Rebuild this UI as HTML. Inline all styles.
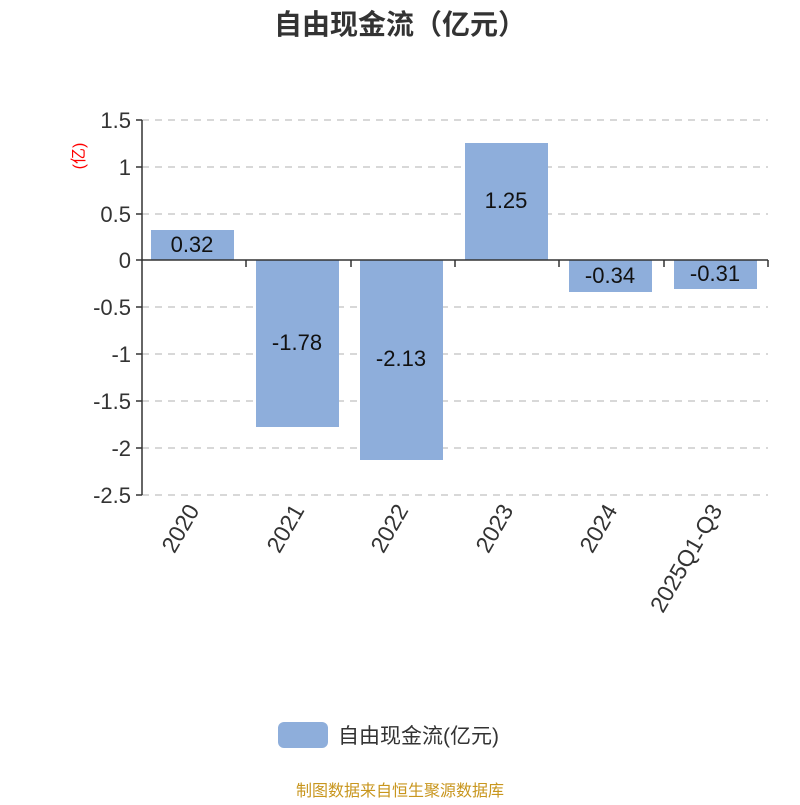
<!DOCTYPE html>
<html><head><meta charset="utf-8"><style>
html,body{margin:0;padding:0;background:#fff;}
svg text{font-family:"Liberation Sans","Noto Sans CJK SC",sans-serif;}
</style></head><body>
<svg width="800" height="800" viewBox="0 0 800 800" xmlns="http://www.w3.org/2000/svg">
<text x="400" y="34" text-anchor="middle" font-size="28" font-weight="bold" fill="#333">自由现金流（亿元）</text>
<g stroke="#ccc" stroke-width="1.5" stroke-dasharray="7,6">
<line x1="142" y1="120" x2="768" y2="120"/>
<line x1="142" y1="167" x2="768" y2="167"/>
<line x1="142" y1="214" x2="768" y2="214"/>
<line x1="142" y1="307" x2="768" y2="307"/>
<line x1="142" y1="354" x2="768" y2="354"/>
<line x1="142" y1="401" x2="768" y2="401"/>
<line x1="142" y1="448" x2="768" y2="448"/>
<line x1="142" y1="495" x2="768" y2="495"/>
</g>
<g fill="#8eaedb">
<rect x="151" y="230" width="83" height="30"/>
<rect x="256" y="260" width="83" height="167"/>
<rect x="360" y="260" width="83" height="200"/>
<rect x="465" y="143" width="83" height="117"/>
<rect x="569" y="260" width="83" height="32"/>
<rect x="674" y="260" width="83" height="29"/>
</g>
<g stroke="#333" stroke-width="1.5">
<line x1="142" y1="120" x2="142" y2="495"/>
<line x1="142" y1="260" x2="768" y2="260"/>
<line x1="136" y1="120" x2="142" y2="120"/><line x1="136" y1="167" x2="142" y2="167"/>
<line x1="136" y1="214" x2="142" y2="214"/><line x1="136" y1="260" x2="142" y2="260"/>
<line x1="136" y1="307" x2="142" y2="307"/><line x1="136" y1="354" x2="142" y2="354"/>
<line x1="136" y1="401" x2="142" y2="401"/><line x1="136" y1="448" x2="142" y2="448"/>
<line x1="136" y1="495" x2="142" y2="495"/>
<line x1="246" y1="260" x2="246" y2="267"/><line x1="351" y1="260" x2="351" y2="267"/>
<line x1="455" y1="260" x2="455" y2="267"/><line x1="559" y1="260" x2="559" y2="267"/>
<line x1="664" y1="260" x2="664" y2="267"/><line x1="768" y1="260" x2="768" y2="267"/>
</g>
<g font-size="22" fill="#333" text-anchor="end">
<text x="131" y="128">1.5</text><text x="131" y="175">1</text><text x="131" y="222">0.5</text>
<text x="131" y="268">0</text><text x="131" y="315">-0.5</text><text x="131" y="362">-1</text>
<text x="131" y="409">-1.5</text><text x="131" y="456">-2</text><text x="131" y="503">-2.5</text>
</g>
<text transform="translate(84,156) rotate(-90)" text-anchor="middle" font-size="16" fill="red">(亿)</text>
<g font-size="22" fill="#111" text-anchor="middle">
<text x="192" y="252">0.32</text><text x="297" y="350">-1.78</text><text x="401" y="366">-2.13</text>
<text x="506" y="208">1.25</text><text x="610" y="283">-0.34</text><text x="715" y="281">-0.31</text>
</g>
<g font-size="23" fill="#333" text-anchor="end">
<text transform="translate(200,510) rotate(-60)">2020</text>
<text transform="translate(305,510) rotate(-60)">2021</text>
<text transform="translate(409,510) rotate(-60)">2022</text>
<text transform="translate(514,510) rotate(-60)">2023</text>
<text transform="translate(618,510) rotate(-60)">2024</text>
<text transform="translate(723,510) rotate(-60)">2025Q1-Q3</text>
</g>
<rect x="278" y="722" width="50" height="26" rx="6" fill="#8eaedb"/>
<text x="338" y="743" font-size="21" fill="#333">自由现金流(亿元)</text>
<text x="400" y="796" text-anchor="middle" font-size="16" fill="#c8961e">制图数据来自恒生聚源数据库</text>
</svg>
</body></html>
